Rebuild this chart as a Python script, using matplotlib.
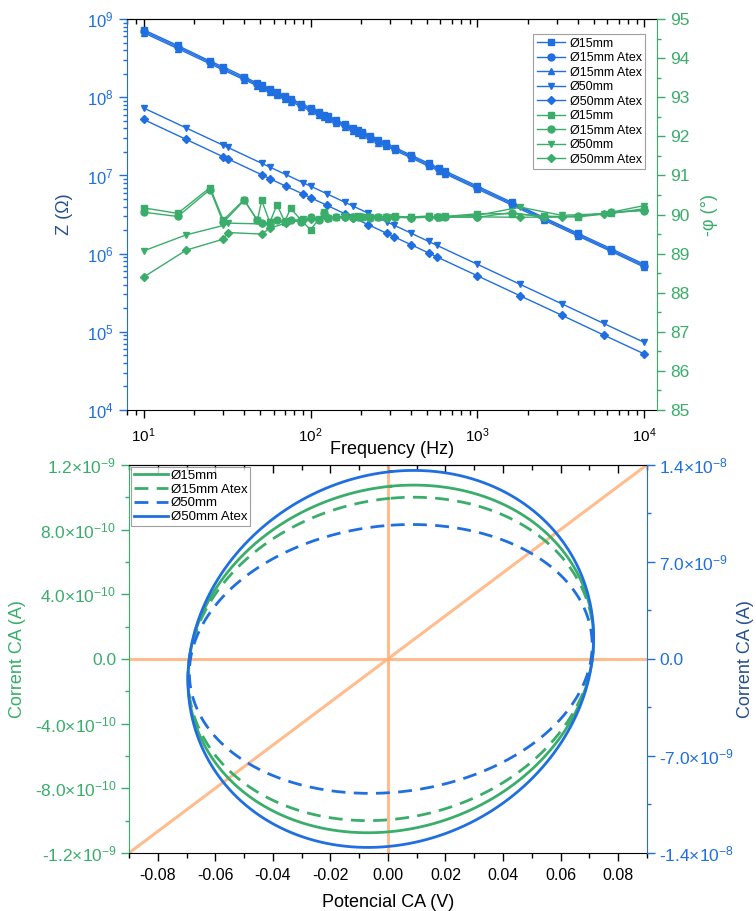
import numpy as np
import matplotlib
matplotlib.use('Agg')
import matplotlib.pyplot as plt
from matplotlib.ticker import LogLocator, LogFormatterMathtext, MultipleLocator, FuncFormatter, NullFormatter

plt.rcParams['font.family'] = ['Liberation Sans', 'DejaVu Sans']
plt.rcParams['mathtext.fontset'] = 'custom'
plt.rcParams['mathtext.rm'] = 'Liberation Sans'
plt.rcParams['mathtext.it'] = 'Liberation Sans:italic'
plt.rcParams['mathtext.bf'] = 'Liberation Sans:bold'

BLUE = '#1f6fe0'
GREEN = '#3aad6b'
ORANGE = '#ffb27c'
NAVY = '#27508f'

# ---- impedancia (top) ----
f15 = [10, 16, 25, 30, 40, 48, 51, 57, 63, 70, 76, 88, 100, 112, 121, 127, 143, 160, 180,
       193, 202, 226, 255, 283, 321, 400, 510, 585, 640, 1000, 1600, 2500, 4000, 6300, 10000]
z15 = [7.3e8, 4.6e8, 2.9e8, 2.45e8, 1.83e8, 1.52e8, 1.43e8, 1.28e8, 1.16e8, 1.04e8, 9.6e7,
       8.3e7, 7.3e7, 6.5e7, 6.0e7, 5.75e7, 5.1e7, 4.55e7, 4.05e7, 3.78e7, 3.6e7, 3.22e7,
       2.86e7, 2.58e7, 2.27e7, 1.82e7, 1.43e7, 1.25e7, 1.14e7, 7.3e6, 4.55e6, 2.9e6,
       1.82e6, 1.16e6, 7.3e5]
z15_atex = [7.0e8, 4.4e8, 2.8e8, 2.33e8, 1.75e8, 1.46e8, 1.37e8, 1.23e8, 1.11e8, 1.0e8, 9.2e7,
            7.95e7, 7.0e7, 6.25e7, 5.8e7, 5.5e7, 4.9e7, 4.37e7, 3.9e7, 3.62e7, 3.46e7, 3.1e7,
            2.74e7, 2.47e7, 2.18e7, 1.75e7, 1.37e7, 1.2e7, 1.09e7, 7.0e6, 4.37e6, 2.8e6,
            1.75e6, 1.11e6, 7.0e5]
z15_atex2 = [6.7e8, 4.2e8, 2.68e8, 2.23e8, 1.68e8, 1.4e8, 1.31e8, 1.18e8, 1.06e8, 9.6e7, 8.8e7,
             7.6e7, 6.7e7, 6.0e7, 5.55e7, 5.28e7, 4.7e7, 4.2e7, 3.73e7, 3.47e7, 3.32e7, 2.97e7,
             2.63e7, 2.37e7, 2.09e7, 1.68e7, 1.31e7, 1.15e7, 1.05e7, 6.7e6, 4.2e6, 2.68e6,
             1.68e6, 1.07e6, 6.7e5]
f50 = [10, 18, 30, 32, 51, 57, 71, 90, 100, 125, 160, 180, 221, 286, 315, 400, 510, 570,
       1000, 1800, 3200, 5700, 10000]
z50 = [7.3e7, 4.05e7, 2.43e7, 2.28e7, 1.43e7, 1.28e7, 1.03e7, 8.1e6, 7.3e6, 5.84e6, 4.56e6,
       4.05e6, 3.3e6, 2.55e6, 2.32e6, 1.83e6, 1.43e6, 1.28e6, 7.3e5, 4.05e5, 2.28e5, 1.28e5, 7.3e4]
z50_atex = [5.2e7, 2.89e7, 1.73e7, 1.63e7, 1.02e7, 9.1e6, 7.3e6, 5.8e6, 5.2e6, 4.16e6, 3.25e6,
            2.89e6, 2.35e6, 1.82e6, 1.65e6, 1.3e6, 1.02e6, 9.1e5, 5.2e5, 2.89e5, 1.63e5, 9.1e4, 5.2e4]

# -phi (graus)
ph15 = [90.17, 90.03, 90.69, 89.86, 90.38, 89.85, 90.36, 89.80, 90.25, 89.82, 90.16, 89.85,
        89.61, 89.88, 90.06, 89.90, 89.93, 89.95, 89.94, 89.95, 89.94, 89.93, 89.94, 89.93,
        89.95, 89.94, 89.96, 89.94, 89.95, 90.02, 90.02, 89.96, 89.94, 90.03, 90.15]
ph15_atex = [90.06, 89.95, 90.64, 89.80, 90.36, 89.86, 89.78, 89.75, 89.85, 89.80, 89.85, 89.82,
             89.93, 89.85, 90.03, 89.92, 89.93, 89.94, 89.93, 89.94, 89.93, 89.92, 89.93, 89.94,
             89.93, 89.92, 89.93, 89.94, 89.94, 89.93, 90.05, 89.93, 89.95, 90.06, 90.10]
ph50 = [89.07, 89.48, 89.72, 89.78, 89.76, 89.80, 89.84, 89.88, 89.90, 89.92, 89.93, 89.94,
        89.93, 89.94, 89.93, 89.94, 89.95, 89.94, 89.98, 90.19, 89.98, 90.02, 90.23]
ph50_atex = [88.40, 89.09, 89.37, 89.54, 89.50, 89.65, 89.78, 89.86, 89.88, 89.91, 89.93, 89.92,
             89.93, 89.92, 89.93, 89.92, 89.93, 89.93, 89.94, 89.93, 89.94, 90.02, 90.12]

# ---- Lissajous (bottom) ----
ca_labels = ['Ø15mm', 'Ø15mm Atex', 'Ø50mm', 'Ø50mm Atex']
v_amp = [0.0705, 0.0705, 0.0700, 0.0705]    # V
v_off = [0.001, 0.001, 0.001, 0.001]
i_amp = [1.075e-9, 1.0e-9, 9.7e-9, 1.36e-8]  # A
phase_deg = [83.5, 83.5, 84.0, 83.5]

fig = plt.figure(figsize=(7.56, 9.11), dpi=100)

# ================= top =================
ax = fig.add_axes([0.168, 0.550, 0.701, 0.429])
axp = ax.twinx()

blue_sets = [(f15, z15, 's', 'Ø15mm'), (f15, z15_atex, 'o', 'Ø15mm Atex'),
             (f15, z15_atex2, '^', 'Ø15mm Atex'), (f50, z50, 'v', 'Ø50mm'),
             (f50, z50_atex, 'D', 'Ø50mm Atex')]
handles = []
for fx, zz, mk, lab in blue_sets:
    ms = 4.2 if mk == 'D' else 5
    h, = ax.plot(fx, zz, color=BLUE, marker=mk, ms=ms, lw=1.0, label=lab)
    handles.append(h)

green_sets = [(f15, ph15, 's', 'Ø15mm'), (f15, ph15_atex, 'o', 'Ø15mm Atex'),
              (f50, ph50, 'v', 'Ø50mm'), (f50, ph50_atex, 'D', 'Ø50mm Atex')]
for fx, pp, mk, lab in green_sets:
    ms = 4.2 if mk == 'D' else 5
    h, = axp.plot(fx, pp, color=GREEN, marker=mk, ms=ms, lw=1.0, label=lab)
    handles.append(h)

ax.set_xscale('log')
ax.set_yscale('log')
ax.set_xlim(7.95, 11900)
ax.set_ylim(1e4, 1e9)
axp.set_ylim(85, 95)

ax.yaxis.set_major_locator(LogLocator(base=10, numticks=10))
ax.yaxis.set_minor_locator(LogLocator(base=10, subs=np.arange(2, 10), numticks=20))
ax.yaxis.set_major_formatter(LogFormatterMathtext())
ax.yaxis.set_minor_formatter(NullFormatter())
ax.xaxis.set_major_locator(LogLocator(base=10, numticks=10))
ax.xaxis.set_minor_locator(LogLocator(base=10, subs=np.arange(2, 10), numticks=20))
ax.xaxis.set_major_formatter(LogFormatterMathtext())
ax.xaxis.set_minor_formatter(NullFormatter())
axp.yaxis.set_major_locator(MultipleLocator(1))
axp.yaxis.set_minor_locator(MultipleLocator(0.5))

ax.tick_params(axis='x', which='major', direction='out', length=6, width=1, labelsize=11, pad=6)
ax.tick_params(axis='x', which='minor', direction='out', length=3.5, width=1)
ax.tick_params(axis='y', which='major', direction='out', length=6, width=1, labelsize=12,
               colors=BLUE)
ax.tick_params(axis='y', which='minor', direction='out', length=3, width=1, colors=BLUE)
axp.tick_params(axis='y', which='major', direction='out', length=6, width=1, labelsize=12.5,
                colors=GREEN)
axp.tick_params(axis='y', which='minor', direction='out', length=3, width=1, colors=GREEN)

sec = ax.secondary_xaxis('top')
sec.tick_params(axis='x', which='major', direction='in', length=6, width=1, labeltop=False)
sec.tick_params(axis='x', which='minor', direction='in', length=3.5, width=1)
sec.xaxis.set_major_formatter(NullFormatter())
sec.xaxis.set_minor_formatter(NullFormatter())

ax.spines['left'].set_color(BLUE)
ax.spines['right'].set_visible(False)
for s in ['left', 'top', 'bottom']:
    axp.spines[s].set_visible(False)
axp.spines['right'].set_color(GREEN)
sec.spines['top'].set_color('#333333')

ax.set_xlabel('Frequency (Hz)', fontsize=13, labelpad=-3)
ax.set_ylabel('Z (Ω)', fontsize=13, color=NAVY, labelpad=10)
axp.set_ylabel('-φ (°)', fontsize=13, color=GREEN, labelpad=8)

leg = axp.legend(handles=handles, loc='upper right', bbox_to_anchor=(0.978, 0.962),
                 fontsize=9, frameon=True, fancybox=False, edgecolor='#888888',
                 borderpad=0.3, labelspacing=0.2, handlelength=2.2, handletextpad=0.4,
                 borderaxespad=0)
leg.get_frame().set_linewidth(0.8)

# ================= bottom =================
bx = fig.add_axes([0.1706, 0.0637, 0.685, 0.426])
bxr = bx.twinx()

bx.set_xlim(-0.09, 0.09)
bx.set_ylim(-1.2e-9, 1.2e-9)
bxr.set_ylim(-1.4e-8, 1.4e-8)

# linhas de referencia
bx.axhline(0, color=ORANGE, lw=2.2, alpha=0.85, zorder=1)
bx.axvline(0, color=ORANGE, lw=2.2, alpha=0.85, zorder=1)
bx.plot([0, 1], [0, 1], transform=bx.transAxes, color=ORANGE, lw=2.2, alpha=0.85, zorder=1)

t = np.linspace(0, 2 * np.pi, 400)
styles = [(GREEN, '-', bx), (GREEN, (0, (5, 3)), bx), (BLUE, (0, (5, 3)), bxr), (BLUE, '-', bxr)]
ca_handles = []
for k, (col, ls, a) in enumerate(styles):
    v = v_off[k] + v_amp[k] * np.sin(t)
    i = i_amp[k] * np.sin(t + np.deg2rad(phase_deg[k]))
    h, = a.plot(v, i, color=col, ls=ls, lw=2.0, label=ca_labels[k])
    ca_handles.append(h)


def sci_fmt(val, pos):
    if abs(val) < 1e-20:
        return '0.0'
    e = int(np.floor(np.log10(abs(val)) + 1e-9))
    m = val / 10 ** e
    return '%.1f×10$^{%d}$' % (m, e)


bx.yaxis.set_major_locator(MultipleLocator(4e-10))
bx.yaxis.set_minor_locator(MultipleLocator(2e-10))
bx.yaxis.set_major_formatter(FuncFormatter(sci_fmt))
bxr.yaxis.set_major_locator(MultipleLocator(7e-9))
bxr.yaxis.set_minor_locator(MultipleLocator(3.5e-9))
bxr.yaxis.set_major_formatter(FuncFormatter(sci_fmt))
bx.xaxis.set_major_locator(MultipleLocator(0.02))
bx.xaxis.set_minor_locator(MultipleLocator(0.01))
bx.xaxis.set_major_formatter(FuncFormatter(lambda v, p: '%.2f' % v if abs(v) > 1e-9 else '0.00'))

bx.tick_params(axis='x', which='major', direction='out', length=6, width=1, labelsize=11.5, pad=5)
bx.tick_params(axis='x', which='minor', direction='out', length=3.5, width=1)
bx.tick_params(axis='y', which='major', direction='out', length=6, width=1, labelsize=12.5,
               colors=GREEN, pad=3)
bx.tick_params(axis='y', which='minor', direction='out', length=3, width=1, colors=GREEN)
bxr.tick_params(axis='y', which='major', direction='out', length=6, width=1, labelsize=12.5,
                colors=BLUE, pad=3)
bxr.tick_params(axis='y', which='minor', direction='out', length=3, width=1, colors=BLUE)

sec2 = bx.secondary_xaxis('top')
sec2.xaxis.set_major_locator(MultipleLocator(0.02))
sec2.xaxis.set_minor_locator(MultipleLocator(0.01))
sec2.tick_params(axis='x', which='major', direction='in', length=6, width=1, labeltop=False)
sec2.tick_params(axis='x', which='minor', direction='in', length=3.5, width=1)

bx.spines['left'].set_color(GREEN)
bx.spines['right'].set_visible(False)
for s in ['left', 'top', 'bottom']:
    bxr.spines[s].set_visible(False)
bxr.spines['right'].set_color(BLUE)

bx.set_xlabel('Potencial CA (V)', fontsize=13, labelpad=8)
bx.set_ylabel('Corrent CA (A)', fontsize=13, color=GREEN, labelpad=6)
bxr.set_ylabel('Corrent CA (A)', fontsize=13, color=NAVY, labelpad=2)

leg2 = bxr.legend(handles=ca_handles, loc='upper left', bbox_to_anchor=(0.004, 0.995),
                  fontsize=9.5, frameon=True, fancybox=False, edgecolor='#888888',
                  borderpad=0.2, labelspacing=0.12, handlelength=2.6, handletextpad=0.2,
                  borderaxespad=0)
leg2.get_frame().set_linewidth(0.8)

fig.savefig('out.png', dpi=100)
